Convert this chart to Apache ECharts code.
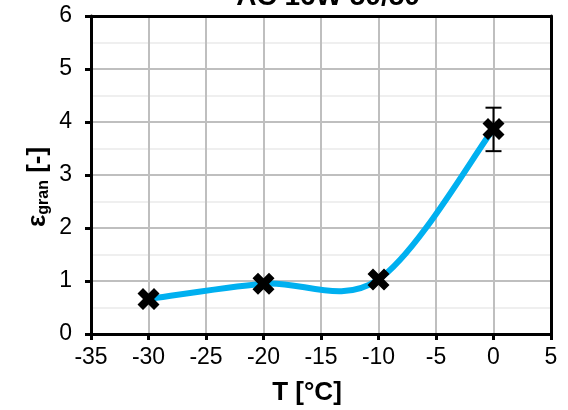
<!DOCTYPE html>
<html><head><meta charset="utf-8">
<script src="https://cdn.jsdelivr.net/npm/echarts@6/dist/echarts.min.js"></script>
<style>html,body{margin:0;padding:0;background:#fff}#c{width:568px;height:410px}</style>
</head><body><div id="c"></div>
<script>
var titleText = 'AC 16W 50/50';
var xTitle = 'T [°C]';
var temps = [-30, -20, -10, 0];
var eps = [0.66, 0.95, 1.03, 3.87];
var errLow = [null, null, null, 3.45];
var errHigh = [null, null, null, 4.27];
var xTicks = {min: -35, max: 5, step: 5};
var yTicks = {min: 0, max: 6, step: 1};

var lineData = temps.map(function (t, i) { return [t, eps[i]]; });
var errData = [];
temps.forEach(function (t, i) { if (errLow[i] != null) errData.push([t, errLow[i], errHigh[i]]); });

var font = '"Liberation Sans", Arial, sans-serif';
var chart = echarts.init(document.getElementById('c'));

function frameAxis(pos) {
  return {
    type: 'value', position: pos, z: 4,
    axisLine: {show: true, onZero: false, lineStyle: {color: '#000', width: 3}},
    axisTick: {show: false}, axisLabel: {show: false}, splitLine: {show: false}
  };
}

var xTop = frameAxis('top'); xTop.min = xTicks.min; xTop.max = xTicks.max;
var yRight = frameAxis('right'); yRight.min = yTicks.min; yRight.max = yTicks.max;

chart.setOption({
  animation: false,
  grid: {left: 91, right: 17, top: 16, bottom: 76, containLabel: false},
  graphic: [
    {type: 'text', x: 328, y: 11, z: 10,
     style: {text: titleText, font: 'bold 28px ' + font, fill: '#000', align: 'center', verticalAlign: 'bottom'}},
    {type: 'text', x: 307, y: 393, z: 10,
     style: {text: xTitle, font: 'bold 26px ' + font, fill: '#000', align: 'center', verticalAlign: 'middle'}},
    {type: 'text', x: 38, y: 187, rotation: Math.PI / 2, z: 10,
     style: {
       text: '{b|ε}{s|gran}{b| [-]}', align: 'center', verticalAlign: 'middle', fill: '#000',
       rich: {
         b: {font: 'bold 26px ' + font, fill: '#000'},
         s: {font: 'bold 16px ' + font, fill: '#000', padding: [12, 0, 0, 0]}
       }
     }}
  ],
  xAxis: [{
    type: 'value', min: xTicks.min, max: xTicks.max, interval: xTicks.step, z: 3,
    axisLine: {show: true, onZero: false, lineStyle: {color: '#000', width: 3}},
    axisTick: {show: true, inside: false, length: 6, lineStyle: {color: '#000', width: 3}},
    axisLabel: {fontFamily: font, fontSize: 23, color: '#000', margin: 12},
    splitLine: {show: true, lineStyle: {color: '#BFBFBF', width: 2}}
  }, xTop],
  yAxis: [{
    type: 'value', min: yTicks.min, max: yTicks.max, interval: yTicks.step, z: 3,
    axisLine: {show: true, onZero: false, lineStyle: {color: '#000', width: 3}},
    axisTick: {show: true, inside: false, length: 6, lineStyle: {color: '#000', width: 3}},
    axisLabel: {fontFamily: font, fontSize: 23, color: '#000', margin: 19},
    splitLine: {show: true, lineStyle: {color: '#BFBFBF', width: 2}},
    minorTick: {show: false, splitNumber: 2},
    minorSplitLine: {show: true, lineStyle: {color: '#EFEFEF', width: 2}}
  }, yRight],
  series: [
    {
      type: 'custom', z: 3, data: errData,
      renderItem: function (params, api) {
        var x = api.value(0);
        var lo = api.coord([x, api.value(1)]);
        var hi = api.coord([x, api.value(2)]);
        var cw = 8;
        var st = {stroke: '#000', lineWidth: 2};
        return {type: 'group', children: [
          {type: 'line', shape: {x1: lo[0], y1: lo[1], x2: hi[0], y2: hi[1]}, style: st},
          {type: 'line', shape: {x1: lo[0] - cw, y1: lo[1], x2: lo[0] + cw, y2: lo[1]}, style: st},
          {type: 'line', shape: {x1: hi[0] - cw, y1: hi[1], x2: hi[0] + cw, y2: hi[1]}, style: st}
        ]};
      }
    },
    {
      // smoothed curve (Catmull-Rom style bezier between the data points, like a spreadsheet "smoothed line")
      type: 'custom', z: 4, data: lineData.slice(0, lineData.length - 1),
      renderItem: function (params, api) {
        var i = params.dataIndex, n = lineData.length;
        var P = function (k) { k = Math.max(0, Math.min(n - 1, k)); return api.coord(lineData[k]); };
        var p0 = P(i - 1), p1 = P(i), p2 = P(i + 1), p3 = P(i + 2);
        var c1 = [p1[0] + (p2[0] - p0[0]) / 6, p1[1] + (p2[1] - p0[1]) / 6];
        var c2 = [p2[0] - (p3[0] - p1[0]) / 6, p2[1] - (p3[1] - p1[1]) / 6];
        return {type: 'bezierCurve',
          shape: {x1: p1[0], y1: p1[1], cpx1: c1[0], cpy1: c1[1], cpx2: c2[0], cpy2: c2[1], x2: p2[0], y2: p2[1]},
          style: {stroke: '#00B0F0', lineWidth: 6, fill: null, lineCap: 'round'}};
      }
    },
    {
      type: 'scatter', z: 5, data: lineData,
      symbol: 'path://M2.5,0 L5,2.5 L7.5,0 L10,2.5 L7.5,5 L10,7.5 L7.5,10 L5,7.5 L2.5,10 L0,7.5 L2.5,5 L0,2.5 Z',
      symbolSize: 22,
      itemStyle: {color: '#000', opacity: 1}
    }
  ]
});
</script></body></html>
